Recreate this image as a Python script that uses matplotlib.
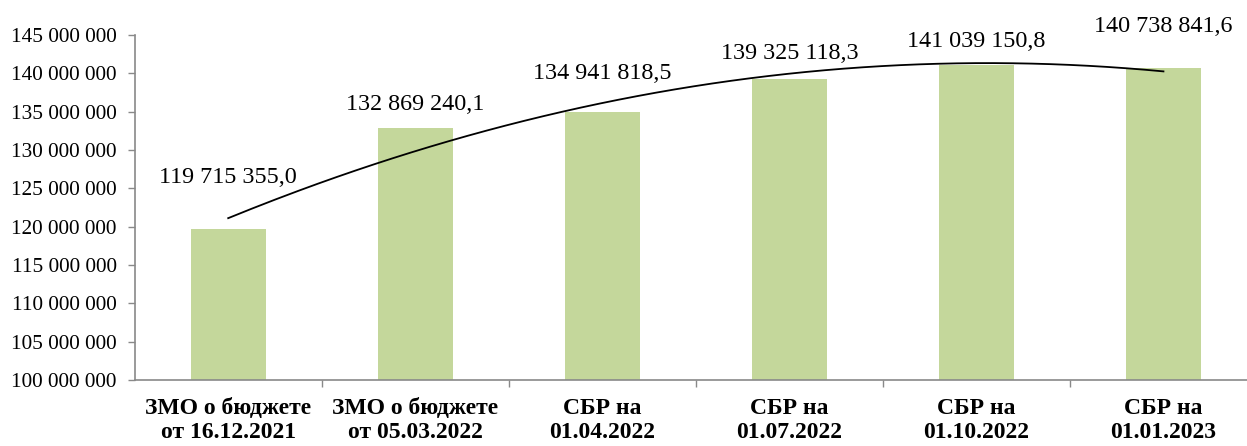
import numpy as np
import matplotlib
matplotlib.use("Agg")
import matplotlib.pyplot as plt

# Chart data
categories = [
    "ЗМО о бюджете\nот 16.12.2021",
    "ЗМО о бюджете\nот 05.03.2022",
    "СБР на\n01.04.2022",
    "СБР на\n01.07.2022",
    "СБР на\n01.10.2022",
    "СБР на\n01.01.2023",
]
values = [119715355.0, 132869240.1, 134941818.5, 139325118.3, 141039150.8, 140738841.6]
y_ticks = list(range(100_000_000, 145_000_001, 5_000_000))

# Label offsets above bar tops (points), as placed in the original
label_offsets = [37, 17, 28, 18, 17, 30]

BAR_COLOR = "#C4D79B"
AXIS_COLOR = "#898989"

plt.rcParams["font.family"] = ["Liberation Serif", "DejaVu Serif"]

fig = plt.figure(figsize=(12.47, 4.46), dpi=100)
ax = fig.add_axes([0.108, 0.148, 0.9, 0.7735])

x = np.arange(len(categories))
ax.bar(x, values, width=0.4, color=BAR_COLOR, zorder=2)

# Polynomial (2nd order) trend line
coef = np.polyfit(x, values, 2)
xs = np.linspace(x[0], x[-1], 200)
ax.plot(xs, np.polyval(coef, xs), color="black", lw=1.3, zorder=3, clip_on=False)

for xi, v, off in zip(x, values, label_offsets):
    txt = f"{v:,.1f}".replace(",", " ").replace(".", ",")
    ax.annotate(txt, (xi, v), xytext=(0, off), textcoords="offset points",
                ha="center", va="center", fontsize=17.4, annotation_clip=False)

ax.set_xlim(-0.5, len(categories) - 0.5)
ax.set_ylim(100_000_000, 145_000_000)
ax.set_yticks(y_ticks)
ax.set_yticklabels([f"{t:,}".replace(",", " ") for t in y_ticks], fontsize=15.3)

ax.set_xticks(x)
ax.set_xticklabels(categories, fontsize=17, fontweight="bold", linespacing=1.2)
ax.set_xticks(x[:-1] + 0.5, minor=True)
ax.tick_params(axis="x", which="major", length=0, pad=13)
ax.tick_params(axis="x", which="minor", length=5, width=1, color=AXIS_COLOR, direction="out")
ax.tick_params(axis="y", length=5, width=1, color=AXIS_COLOR, direction="out", pad=8)

for side in ["top", "right"]:
    ax.spines[side].set_visible(False)
for side in ["left", "bottom"]:
    ax.spines[side].set_color(AXIS_COLOR)
    ax.spines[side].set_linewidth(1.2)

fig.savefig("out.png", dpi=100)
